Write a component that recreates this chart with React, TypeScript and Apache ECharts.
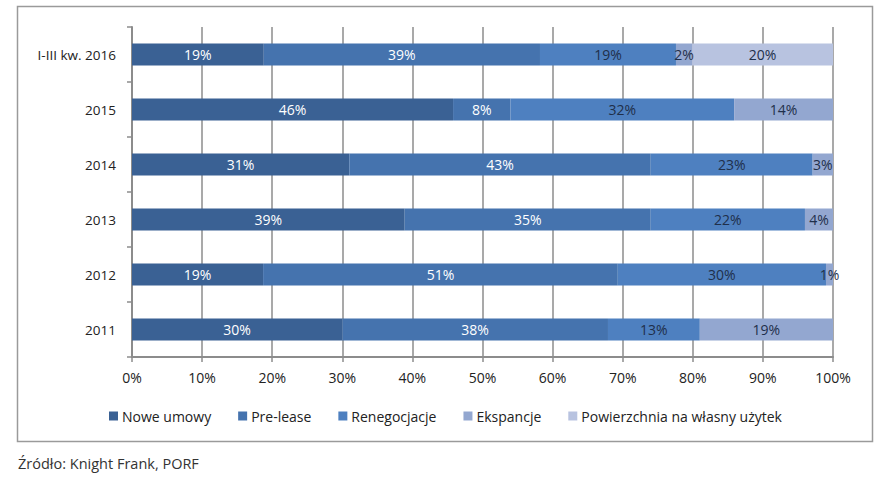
import React, { useEffect, useRef } from "react";
import * as echarts from "echarts";

const categories = ["I-III kw. 2016", "2015", "2014", "2013", "2012", "2011"];
const seriesNames = ["Nowe umowy", "Pre-lease", "Renegocjacje", "Ekspancje", "Powierzchnia na własny użytek"];
const noweUmowy = [18.8, 45.8, 31.0, 38.9, 18.7, 30.0];
const preLease = [39.4, 8.2, 43.0, 35.1, 50.6, 37.9];
const renegocjacje = [19.4, 31.9, 23.1, 22.0, 29.7, 13.1];
const ekspancje = [2.3, 14.1, 2.9, 4.0, 1.0, 19.0];
const powierzchnia = [20.1, null, null, null, null, null];
const xTicks = [0, 10, 20, 30, 40, 50, 60, 70, 80, 90, 100];
const colors = ["#3A6194", "#4573AE", "#4E80C0", "#93A7D0", "#B8C3E0"];
const labelColors = ["#ffffff", "#ffffff", "#1F2F4A", "#1F2F4A", "#1F2F4A"];
const source = "Źródło: Knight Frank, PORF";

const FONT = "'Open Sans', 'Noto Sans', sans-serif";

export default function App() {
  const ref = useRef<HTMLDivElement>(null);
  useEffect(() => {
    if (!ref.current) return;
    const chart = echarts.init(ref.current, null, { renderer: "svg" });
    const allData = [noweUmowy, preLease, renegocjacje, ekspancje, powierzchnia];
    chart.setOption({
      animation: false,
      textStyle: { fontFamily: FONT },
      grid: { left: 132, right: 57, top: 27, bottom: 121 },
      graphic: [
        {
          type: "rect",
          shape: { x: 17.5, y: 6.5, width: 855, height: 435 },
          style: { fill: "none", stroke: "#9a9a9a", lineWidth: 1.5 },
          silent: true,
        },
        {
          type: "text",
          left: 18,
          top: 456,
          style: { text: source, fill: "#333", font: `14.5px ${FONT}` },
        },
      ],
      legend: {
        left: 104,
        top: 404,
        itemWidth: 9,
        itemHeight: 9,
        itemGap: 27,
        icon: "rect",
        textStyle: { fontSize: 14, color: "#222", fontFamily: FONT, padding: [0, 0, 0, -1] },
        data: seriesNames,
      },
      xAxis: {
        type: "value",
        min: 0,
        max: 100,
        interval: 10,
        axisLine: { show: true, lineStyle: { color: "#8c8c8c", width: 2 } },
        axisTick: { show: true, length: 5, lineStyle: { color: "#8c8c8c", width: 1.5 } },
        splitLine: { show: true, lineStyle: { color: "#8c8c8c", width: 1.5 } },
        axisLabel: {
          margin: 13,
          fontSize: 14,
          color: "#222",
          fontFamily: FONT,
          formatter: (v: number) => (xTicks.includes(v) ? `${v}%` : ""),
        },
      },
      yAxis: {
        type: "category",
        inverse: true,
        data: categories,
        axisLine: { show: true, lineStyle: { color: "#8c8c8c", width: 2 } },
        axisTick: { show: true, length: 5, lineStyle: { color: "#8c8c8c", width: 1.5 } },
        axisLabel: { margin: 16, fontSize: 13.5, color: "#222", fontFamily: FONT },
      },
      series: seriesNames.map((name, i) => ({
        name,
        type: "bar",
        stack: "total",
        barWidth: 22,
        itemStyle: { color: colors[i] },
        label: {
          show: true,
          position: "inside",
          color: labelColors[i],
          fontSize: 14,
          fontFamily: FONT,
          formatter: (p: any) => (p.value == null || p.value === 0 ? "" : `${Math.round(p.value)}%`),
        },
        data: allData[i],
      })),
    });
    return () => chart.dispose();
  }, []);
  return (
    <div
      ref={ref}
      style={{ position: "fixed", left: 0, top: 0, width: 890, height: 478, background: "#fff" }}
    />
  );
}
